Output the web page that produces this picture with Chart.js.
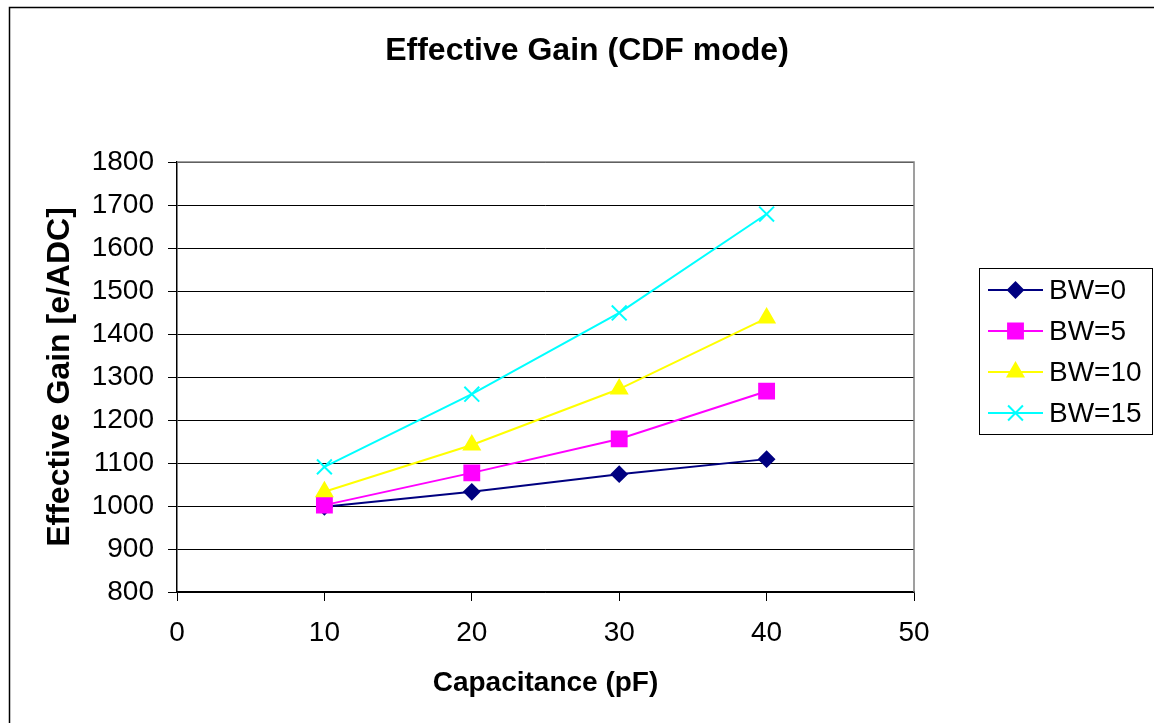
<!DOCTYPE html>
<html>
<head>
<meta charset="utf-8">
<script src="https://cdn.jsdelivr.net/npm/chart.js@4/dist/chart.umd.min.js"></script>
<style>
  body { margin: 0; background: #fff; }
  #wrap { width: 1154px; height: 723px; }
</style>
</head>
<body>
<div id="wrap"><canvas id="chart" width="1154" height="723"></canvas></div>
<script>
const capacitance = [10, 20, 30, 40];
const bw0 = [998, 1033, 1074, 1109];
const bw5 = [1002, 1077, 1156, 1267];
const bw10 = [1033, 1142, 1272, 1437];
const bw15 = [1091, 1260, 1449, 1679];
const seriesLabels = ["BW=0", "BW=5", "BW=10", "BW=15"];

const FONT = "'Liberation Sans', Arial, sans-serif";

const styles = [
  { color: "#000080", pointStyle: "rectRot", radius: 7.5 },
  { color: "#ff00ff", pointStyle: "rect", radius: 10.5 },
  { color: "#ffff00", pointStyle: "triangle", radius: 9 },
  { color: "#00ffff", pointStyle: "crossRot", radius: 10.5 },
];

function makeDataset(label, values, i) {
  const s = styles[i];
  return {
    label,
    data: capacitance.map((x, k) => ({ x, y: values[k] })),
    borderColor: s.color,
    backgroundColor: s.color,
    borderWidth: 2,
    pointStyle: s.pointStyle,
    pointRadius: s.radius,
    pointBorderWidth: 2,
    pointBackgroundColor: s.color,
    pointBorderColor: s.color,
    tension: 0,
    // later series sit on top, like the original
    order: 4 - i,
  };
}

const frameAndLegend = {
  id: "frameAndLegend",
  beforeDraw(chart) {
    const { ctx } = chart;
    ctx.save();
    ctx.fillStyle = "#fff";
    ctx.fillRect(0, 0, chart.width, chart.height);
    ctx.restore();
  },
  afterDraw(chart) {
    const { ctx, chartArea } = chart;
    ctx.save();

    // outer frame
    ctx.strokeStyle = "#000";
    ctx.lineWidth = 1.5;
    ctx.beginPath();
    ctx.moveTo(9.5, chart.height + 2);
    ctx.lineTo(9.5, 7.5);
    ctx.lineTo(chart.width + 2, 7.5);
    ctx.stroke();

    // plot frame, top and right
    ctx.strokeStyle = "#808080";
    ctx.lineWidth = 1.5;
    ctx.beginPath();
    ctx.moveTo(chartArea.left, chartArea.top);
    ctx.lineTo(chartArea.right, chartArea.top);
    ctx.lineTo(chartArea.right, chartArea.bottom);
    ctx.stroke();

    // title
    ctx.fillStyle = "#000";
    ctx.font = "bold 32px " + FONT;
    ctx.textAlign = "center";
    ctx.textBaseline = "middle";
    ctx.fillText("Effective Gain (CDF mode)", 587, 51);

    // legend
    ctx.strokeStyle = "#000";
    ctx.lineWidth = 1;
    ctx.strokeRect(979.5, 268.5, 173, 166);
    const rows = [290, 331, 372, 413];
    ctx.font = "28px " + FONT;
    ctx.textAlign = "left";
    seriesLabels.forEach((label, i) => {
      const s = styles[i];
      const y = rows[i];
      ctx.strokeStyle = s.color;
      ctx.fillStyle = s.color;
      ctx.lineWidth = 2;
      ctx.beginPath();
      ctx.moveTo(988, y);
      ctx.lineTo(1043, y);
      ctx.stroke();
      Chart.helpers.drawPoint(ctx, {
        pointStyle: s.pointStyle,
        radius: s.radius,
        rotation: 0,
        borderWidth: 2,
      }, 1015.5, y);
      ctx.fillStyle = "#000";
      ctx.fillText(label, 1049, y + 1);
    });

    ctx.restore();
  },
};

new Chart(document.getElementById("chart"), {
  type: "line",
  data: {
    datasets: [
      makeDataset(seriesLabels[0], bw0, 0),
      makeDataset(seriesLabels[1], bw5, 1),
      makeDataset(seriesLabels[2], bw10, 2),
      makeDataset(seriesLabels[3], bw15, 3),
    ],
  },
  options: {
    responsive: false,
    animation: false,
    layout: { padding: { left: 0, top: 162, right: 240, bottom: 0 } },
    plugins: {
      legend: { display: false },
      title: { display: false },
      tooltip: { enabled: false },
    },
    scales: {
      x: {
        type: "linear",
        min: 0,
        max: 50,
        ticks: { stepSize: 10, color: "#000", padding: 15, font: { family: FONT, size: 28 } },
        grid: { drawOnChartArea: false, drawTicks: true, tickLength: 9, color: "#000" },
        border: { color: "#000", width: 1.5 },
        title: {
          display: true,
          text: "Capacitance (pF)",
          color: "#000",
          font: { family: FONT, size: 28, weight: "bold" },
          padding: { top: 0, bottom: 23 },
        },
        afterFit(scale) { scale.height = 131; },
      },
      y: {
        min: 800,
        max: 1800,
        ticks: {
          stepSize: 100,
          color: "#000",
          padding: 14,
          font: { family: FONT, size: 28 },
          callback: (v) => String(v),
        },
        grid: { color: "#000", lineWidth: 1, tickLength: 9 },
        border: { color: "#000", width: 1.5 },
        title: {
          display: true,
          text: "Effective Gain [e/ADC]",
          color: "#000",
          font: { family: FONT, size: 32, weight: "bold" },
          padding: { top: 41, bottom: 0 },
        },
        afterFit(scale) { scale.width = 177; },
      },
    },
  },
  plugins: [frameAndLegend],
});
</script>
</body>
</html>
